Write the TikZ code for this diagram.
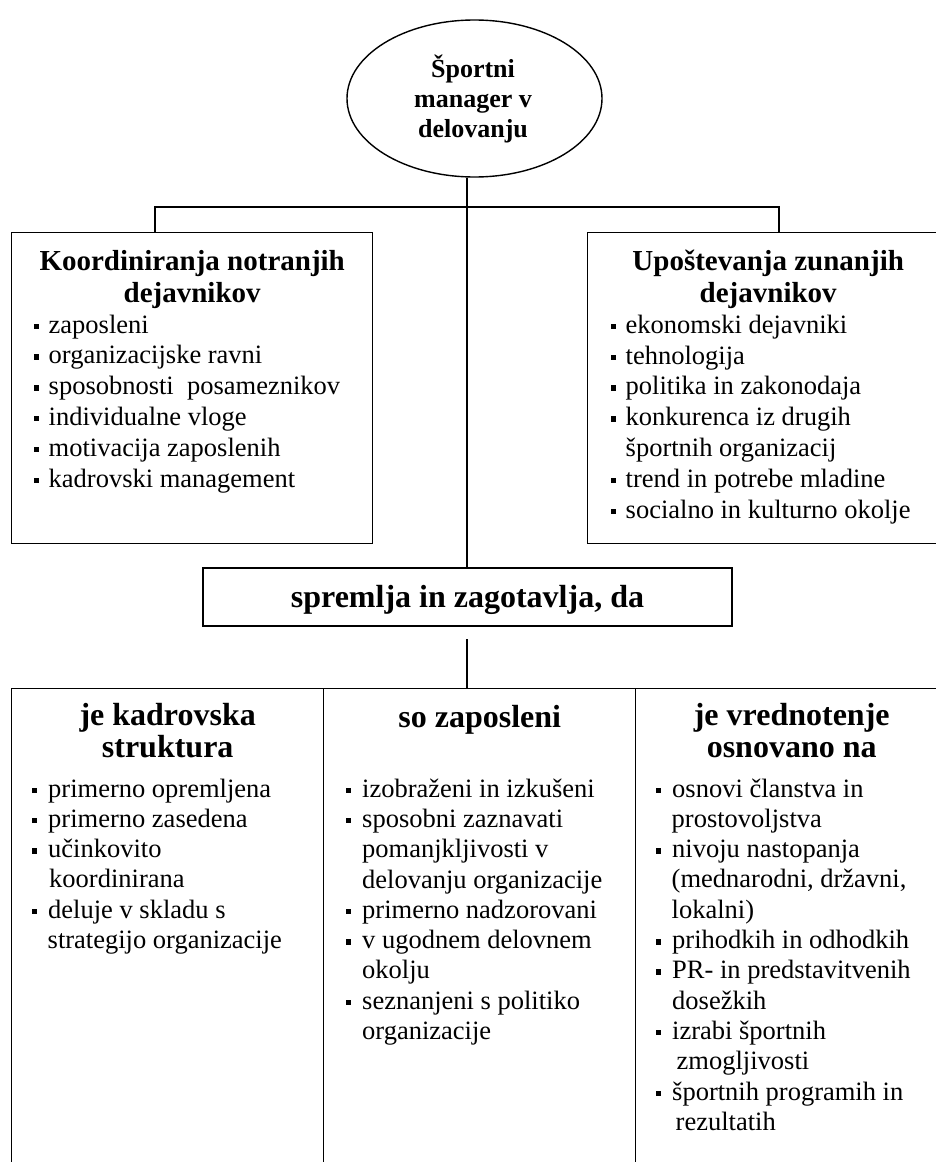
\documentclass[tikz,border=0pt]{standalone}
\usepackage{fontspec}
\setmainfont{Liberation Serif}
\usetikzlibrary{shapes.geometric}
% small square bullets with a fixed advance
\newcommand\sqbul{\makebox[15pt][l]{\rule[4pt]{5.5pt}{5.5pt}}}
\newcommand\sqbulB{\makebox[16.5pt][l]{\rule[4pt]{5.5pt}{5.5pt}}}
\begin{document}
\begin{tikzpicture}[x=1pt,y=-1pt,
  line width=1.4pt,
  frame/.style={draw, rectangle, inner sep=0pt, anchor=north west},
  % multi-line texts are anchored at the baseline of their last line
  headA/.style={inner sep=0pt, anchor=base, align=center, font=\fontsize{29}{32}\selectfont\bfseries},
  headB/.style={inner sep=0pt, anchor=base, align=center, font=\fontsize{32}{32}\selectfont\bfseries},
  listA/.style={inner sep=0pt, anchor=base west, align=left, font=\fontsize{26.5}{30.8}\selectfont},
  listB/.style={inner sep=0pt, anchor=base west, align=left, font=\fontsize{26.5}{30.3}\selectfont},
]
\useasboundingbox (0,0) rectangle (936,1162);
\clip (0,0) rectangle (936,1162);

% central ellipse
\node[draw, ellipse, minimum width=255pt, minimum height=157pt, inner sep=0pt] (E) at (474.5,98.5) {};
\node[inner sep=0pt, anchor=base, align=center, font=\fontsize{26}{30}\selectfont\bfseries]
  (Et) at (473,137) {Športni\\manager v\\delovanju};

% upper boxes
\node[frame, minimum width=361pt, minimum height=311pt] (L) at (11,232) {};
\node[frame, minimum width=361pt, minimum height=311pt] (R) at (587,232) {};

\node[headA] (Lh) at ([yshift=-70pt]L.north) {Koordiniranja notranjih\\dejavnikov};
\node[listA] (Ll) at ([xshift=22pt,yshift=-255pt]L.north west)
  {\sqbul zaposleni\\
   \sqbul organizacijske ravni\\
   \sqbul sposobnosti\ \ posameznikov\\
   \sqbul individualne vloge\\
   \sqbul motivacija zaposlenih\\
   \sqbul kadrovski management};

\node[headA] (Rh) at ([yshift=-70pt]R.north) {Upoštevanja zunanjih\\dejavnikov};
\node[listA] (Rl) at ([xshift=23pt,yshift=-286pt]R.north west)
  {\sqbul ekonomski dejavniki\\
   \sqbul tehnologija\\
   \sqbul politika in zakonodaja\\
   \sqbul konkurenca iz drugih\\
   \hspace*{15pt}športnih organizacij\\
   \sqbul trend in potrebe mladine\\
   \sqbul socialno in kulturno okolje};

% middle box
\node[draw, rectangle, inner sep=0pt, minimum width=529pt, minimum height=58pt,
      text height=26pt, text depth=6pt,
      font=\fontsize{32}{32}\selectfont\bfseries] (S) at (467.5,597)
      {spremlja in zagotavlja, da};

% lower row
\node[frame, minimum width=312pt, minimum height=500pt] (B1) at (11,688) {};
\node[frame, minimum width=312pt, minimum height=500pt] (B2) at (323,688) {};
\node[frame, minimum width=312pt, minimum height=500pt] (B3) at (635,688) {};

\node[headB] (B1h) at ([yshift=-69pt]B1.north) {je kadrovska\\struktura};
\node[listB] (B1l) at ([xshift=20pt,yshift=-260.5pt]B1.north west)
  {\sqbulB primerno opremljena\\
   \sqbulB primerno zasedena\\
   \sqbulB učinkovito\\
   \hspace*{17.5pt}koordinirana\\
   \sqbulB deluje v skladu s\\
   \hspace*{16pt}strategijo organizacije};

\node[headB] (B2h) at ([yshift=-39pt]B2.north) {so zaposleni};
\node[listB] (B2l) at ([xshift=22pt,yshift=-351.5pt]B2.north west)
  {\sqbulB izobraženi in izkušeni\\
   \sqbulB sposobni zaznavati\\
   \hspace*{16.5pt}pomanjkljivosti v\\
   \hspace*{16.5pt}delovanju organizacije\\
   \sqbulB primerno nadzorovani\\
   \sqbulB v ugodnem delovnem\\
   \hspace*{16.5pt}okolju\\
   \sqbulB seznanjeni s politiko\\
   \hspace*{16.5pt}organizacije};

\node[headB] (B3h) at ([yshift=-69pt]B3.north) {je vrednotenje\\osnovano na};
\node[listB] (B3l) at ([xshift=20pt,yshift=-442.3pt]B3.north west)
  {\sqbulB osnovi članstva in\\
   \hspace*{16pt}prostovoljstva\\
   \sqbulB nivoju nastopanja\\
   \hspace*{16pt}(mednarodni, državni,\\
   \hspace*{16pt}lokalni)\\
   \sqbulB prihodkih in odhodkih\\
   \sqbulB PR- in predstavitvenih\\
   \hspace*{16.5pt}dosežkih\\
   \sqbulB izrabi športnih\\
   \hspace*{21pt}zmogljivosti\\
   \sqbulB športnih programih in\\
   \hspace*{20pt}rezultatih};

% connectors
\coordinate (jL) at (155,207);
\coordinate (jR) at (779,207);
\coordinate (gS) at (467,639);
\draw (E.south -| gS) -- (S.north -| gS);
\draw (jL |- L.north) -- (jL) -- (jR) -- (jR |- R.north);
\draw (gS) -- (gS |- B2.north);
\end{tikzpicture}
\end{document}
